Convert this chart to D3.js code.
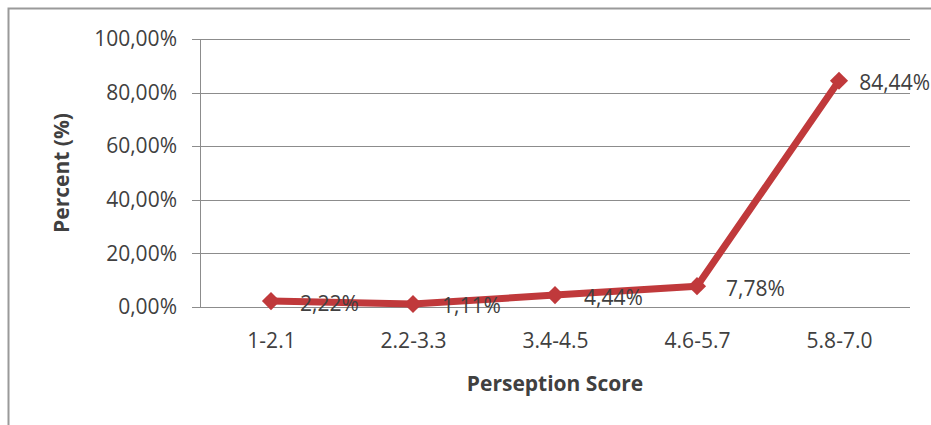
<!DOCTYPE html>
<html lang="en">
  <head>
    <meta charset="utf-8">
    <title>Perseption Score</title>
    <script type="text/javascript" src="https://cdn.jsdelivr.net/npm/d3@7"></script>
    <style>
      body { margin: 0; background: #fff; }
      svg text { font-family: "Open Sans", sans-serif; fill: #404040; }
      .axis path { display: none; }
      .axis text { font-size: 21px; font-family: "Open Sans", sans-serif; fill: #404040; }
    </style>
  </head>
  <body>
    <script type="text/javascript">

      var w = 931;
      var h = 425;

      var categories = ["1-2.1", "2.2-3.3", "3.4-4.5", "4.6-5.7", "5.8-7.0"];
      var percents = [2.22, 1.11, 4.44, 7.78, 84.44];
      var yTicks = [0, 20, 40, 60, 80, 100];

      var plotLeft = 200, plotRight = 910, plotTop = 39, plotBottom = 307;

      var fmt = function(v) { return v.toFixed(2).replace(".", ",") + "%"; };

      var svg = d3.select("body")
                  .append("svg")
                  .attr("width", w)
                  .attr("height", h);

      // outer chart frame
      svg.append("path")
         .attr("d", "M8.5," + h + "V8.5H" + (w + 2))
         .attr("fill", "none")
         .attr("stroke", "#9a9a9a")
         .attr("stroke-width", 2);

      var xScale = d3.scalePoint()
                     .domain(categories)
                     .range([plotLeft, plotRight])
                     .padding(0.5);

      var yScale = d3.scaleLinear()
                     .domain([0, 100])
                     .range([plotBottom, plotTop]);

      // gridlines
      svg.append("g")
         .selectAll("line")
         .data(yTicks)
         .enter()
         .append("line")
         .attr("x1", plotLeft - 8)
         .attr("x2", plotRight)
         .attr("y1", function(d) { return Math.round(yScale(d)) + 0.5; })
         .attr("y2", function(d) { return Math.round(yScale(d)) + 0.5; })
         .attr("stroke", "#8c8c8c")
         .attr("stroke-width", 1);

      svg.append("line")
         .attr("x1", plotLeft + 0.5)
         .attr("x2", plotLeft + 0.5)
         .attr("y1", plotTop)
         .attr("y2", plotBottom + 0.5)
         .attr("stroke", "#8c8c8c");

      var yAxis = d3.axisLeft(yScale)
                    .tickValues(yTicks)
                    .tickSize(0)
                    .tickPadding(23)
                    .tickFormat(fmt);

      svg.append("g")
         .attr("class", "axis")
         .attr("transform", "translate(" + plotLeft + ",0)")
         .call(yAxis);

      var xAxis = d3.axisBottom(xScale)
                    .tickSize(0)
                    .tickPadding(26);

      svg.append("g")
         .attr("class", "axis")
         .attr("transform", "translate(0," + plotBottom + ")")
         .call(xAxis);

      // axis titles
      svg.append("text")
         .attr("x", 555)
         .attr("y", 391)
         .attr("text-anchor", "middle")
         .attr("font-size", "21px")
         .attr("font-weight", "bold")
         .attr("fill", "#262626")
         .text("Perseption Score");

      svg.append("text")
         .attr("transform", "translate(69," + ((plotTop + plotBottom) / 2) + ") rotate(-90)")
         .attr("text-anchor", "middle")
         .attr("font-size", "21px")
         .attr("font-weight", "bold")
         .attr("fill", "#262626")
         .text("Percent (%)");

      var line = d3.line()
                   .x(function(d, i) { return xScale(categories[i]); })
                   .y(function(d) { return yScale(d); });

      svg.append("path")
         .datum(percents)
         .attr("d", line)
         .attr("fill", "none")
         .attr("stroke", "#c0393b")
         .attr("stroke-width", 7)
         .attr("stroke-linejoin", "round");

      svg.selectAll("path.marker")
         .data(percents)
         .enter()
         .append("path")
         .attr("class", "marker")
         .attr("d", d3.symbol().type(d3.symbolDiamond2).size(210))
         .attr("transform", function(d, i) {
           return "translate(" + xScale(categories[i]) + "," + yScale(d) + ")";
         })
         .attr("fill", "#c0393b");

      svg.selectAll("text.label")
         .data(percents)
         .enter()
         .append("text")
         .attr("class", "label")
         .attr("font-size", "21px")
         .attr("dy", "0.45em")
         .attr("y", function(d) { return yScale(d); })
         .text(fmt)
         .attr("x", function(d, i) {
           var tw = this.getComputedTextLength();
           return Math.min(xScale(categories[i]) + 29, w - tw - 1);
         });

    </script>
  </body>
</html>
